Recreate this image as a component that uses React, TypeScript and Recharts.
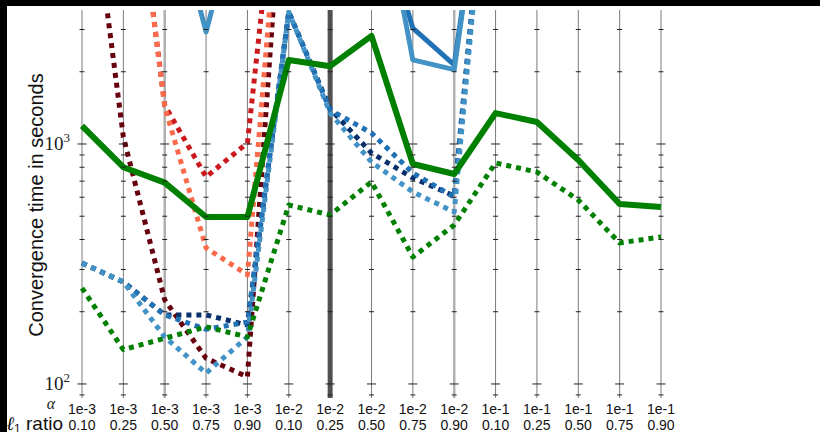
import React from 'react';
import { ComposedChart, Line, XAxis, YAxis, CartesianGrid, ReferenceLine } from 'recharts';

const W = 820;
const H = 432;

// one category per (alpha, l1 ratio) pair
const alphas = ['1e-3', '1e-3', '1e-3', '1e-3', '1e-3', '1e-2', '1e-2', '1e-2', '1e-2', '1e-2', '1e-1', '1e-1', '1e-1', '1e-1', '1e-1'];
const ratios = ['0.10', '0.25', '0.50', '0.75', '0.90', '0.10', '0.25', '0.50', '0.75', '0.90', '0.10', '0.25', '0.50', '0.75', '0.90'];

// seconds; values far above the top edge only give the slope of the clipped segments
const greenSolid = [1190, 800, 690, 496, 496, 2240, 2110, 2820, 825, 750, 1345, 1235, 858, 562, 546];
const greenDotted = [251, 139, 155, 173, 157, 557, 506, 695, 338, 460, 834, 764, 584, 387, 410];
const maroonDotted = [23500, 1070, 224, 128, 107, 31000, null, null, null, null, null, null, null, null, null];
const redDotted = [60000, 34600, 1450, 729, 1010, 40000, null, null, null, null, null, null, null, null, null];
const salmonDotted = [60000, 34600, 1430, 369, 285, 33300, null, null, null, null, null, null, null, null, null];
const lightBlueDotted = [319, 266, 157, 111, 157, 3550, 1346, 841, 631, 521, 38600, null, null, null, null];
const midBlueDotted = [319, 266, 194, 169, 181, 3550, 1386, 1111, 757, 601, 38600, null, null, null, null];
const navyDotted = [319, 266, 194, 194, 176, 3550, 1400, 917, 722, 607, 38600, null, null, null, null];
const lightBlueSolid = [null, null, 13300, 2930, 13300, null, null, 18200, 2240, 2040, 34000, null, null, null, null];
const midBlueSolid = [null, null, null, null, null, null, null, 11500, 3040, 2135, 34000, null, null, null, null];

const yDomain = [87.4, 3617];
const majorTicks = [100, 1000];
const minorTicks = [90, 200, 300, 400, 500, 600, 700, 800, 900, 2000, 3000];

const series = [
  { key: 'maroonDotted', values: maroonDotted, color: '#67000d', dotted: true },
  { key: 'redDotted', values: redDotted, color: '#cb181d', dotted: true },
  { key: 'salmonDotted', values: salmonDotted, color: '#fb6a4a', dotted: true },
  { key: 'navyDotted', values: navyDotted, color: '#08306b', dotted: true },
  { key: 'midBlueDotted', values: midBlueDotted, color: '#2171b5', dotted: true },
  { key: 'lightBlueDotted', values: lightBlueDotted, color: '#4292c6', dotted: true },
  { key: 'midBlueSolid', values: midBlueSolid, color: '#2171b5', dotted: false },
  { key: 'lightBlueSolid', values: lightBlueSolid, color: '#4292c6', dotted: false },
  { key: 'greenDotted', values: greenDotted, color: '#008000', dotted: true },
  { key: 'greenSolid', values: greenSolid, color: '#008000', dotted: false },
];

const data = alphas.map((a, i) => {
  const row: any = { name: `${a}|${ratios[i]}` };
  series.forEach((s) => {
    row[s.key] = s.values[i];
  });
  return row;
});

const sans = '"Liberation Sans", Arial, Helvetica, sans-serif';
const serif = '"Liberation Serif", "DejaVu Serif", serif';

const XTick = ({ x, payload }: any) => {
  const [a, r] = String(payload.value).split('|');
  return (
    <g>
      <text x={x} y={H - 18} textAnchor="middle" fontSize={14} fontFamily={sans} fill="#111">
        {a}
      </text>
      <text x={x} y={H - 2} textAnchor="middle" fontSize={14} fontFamily={sans} fill="#111">
        {r}
      </text>
    </g>
  );
};

const YTick = ({ x, y, payload }: any) => {
  const exp = Math.round(Math.log10(payload.value));
  return (
    <text x={x - 4} y={y + 6} textAnchor="end" fontFamily={serif} fontSize={19} fill="#222">
      10
      <tspan dy={-8} fontSize={13}>
        {exp}
      </tspan>
    </text>
  );
};

const tickMark = (half: number) => (props: any) => {
  const { cx, cy, index } = props;
  if (cx == null || cy == null) return <g key={`t-${index}`} />;
  return <line key={`t-${index}`} x1={cx - half} x2={cx + half} y1={cy} y2={cy} stroke="#222" strokeWidth={1} />;
};

const XLabels = () => (
  <g>
    <text x={51} y={409} textAnchor="middle" fontFamily={serif} fontStyle="italic" fontSize={16} fill="#222">
      α
    </text>
    <text x={63} y={H - 2} textAnchor="end" fontFamily={sans} fontSize={19} fill="#111">
      <tspan fontFamily={serif} fontStyle="italic">ℓ</tspan>
      <tspan fontSize={12} dy={3}>1</tspan>
      <tspan dy={-3}> ratio</tspan>
    </text>
  </g>
);

export default function App() {
  return (
    <div style={{ position: 'relative', width: W, height: H, background: '#000', overflow: 'hidden' }}>
      <style>{'body{margin:0}'}</style>
      <div style={{ position: 'absolute', left: 7, top: 6, right: 0, bottom: 0, background: '#fff' }} />
      <div style={{ position: 'absolute', left: 0, top: 0 }}>
        <ComposedChart width={W} height={H} data={data} margin={{ top: 10, right: 159, bottom: 0, left: 22 }}>
          <CartesianGrid horizontal={false} stroke="#7a7a7a" strokeWidth={1} />
          <XAxis
            dataKey="name"
            type="category"
            scale="point"
            height={34}
            axisLine={false}
            tickLine={false}
            interval={0}
            tick={<XTick />}
            label={{ content: () => <XLabels /> }}
          />
          <YAxis
            type="number"
            scale="log"
            domain={yDomain}
            allowDataOverflow
            ticks={majorTicks}
            width={60}
            axisLine={false}
            tickLine={false}
            tick={<YTick />}
            label={{
              content: () => (
                <text transform="translate(43,205) rotate(-90)" textAnchor="middle" fontFamily={sans} fontSize={20} fill="#111">
                  Convergence time in seconds
                </text>
              ),
            }}
          />
          <ReferenceLine x="1e-3|0.50" stroke="#b0b0b0" strokeWidth={2.5} />
          <ReferenceLine x="1e-2|0.90" stroke="#b0b0b0" strokeWidth={2.5} />
          <ReferenceLine x="1e-2|0.25" stroke="#505050" strokeWidth={5} />
          {majorTicks.map((v) => (
            <Line
              key={`major-${v}`}
              dataKey={() => v}
              stroke="none"
              dot={tickMark(4.5)}
              activeDot={false}
              legendType="none"
              isAnimationActive={false}
            />
          ))}
          {minorTicks.map((v) => (
            <Line
              key={`minor-${v}`}
              dataKey={() => v}
              stroke="none"
              dot={tickMark(2.5)}
              activeDot={false}
              legendType="none"
              isAnimationActive={false}
            />
          ))}
          {series.map((s) => (
            <Line
              key={s.key}
              dataKey={s.key}
              stroke={s.color}
              strokeWidth={s.dotted ? 5 : s.color === '#008000' ? 6 : 5}
              strokeDasharray={s.dotted ? '5 5' : undefined}
              strokeLinejoin="round"
              dot={false}
              activeDot={false}
              isAnimationActive={false}
            />
          ))}
        </ComposedChart>
      </div>
    </div>
  );
}
